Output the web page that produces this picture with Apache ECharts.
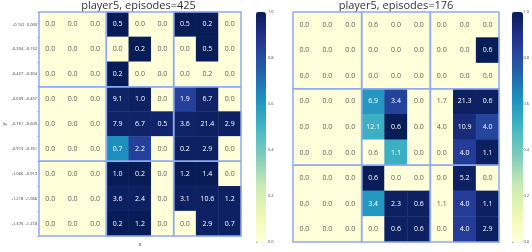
<!DOCTYPE html>
<html><head><meta charset="utf-8">
<script src="https://cdn.jsdelivr.net/npm/echarts@6/dist/echarts.min.js"></script>
<style>html,body{margin:0;padding:0;background:#fff}#c{width:532px;height:252px}</style>
</head><body><div id="c"></div>
<script>
const yCategories = ["-0.152~0.000","-0.304~-0.152","-0.457~-0.304","-0.609~-0.457","-0.761~-0.609","-0.913~-0.761","-1.066~-0.913","-1.218~-1.066","-1.370~-1.218"];
const xCategories = ["0","1","2","3","4","5","6","7","8"];
const titleLeft = "player5, episodes=425";
const titleRight = "player5, episodes=176";
const colorbarTicks = [0, 0.2, 0.4, 0.6, 0.8, 1.0];

const leftValues = [
 [0,0,0,0.5,0,0,0.5,0.2,0],
 [0,0,0,0,0.2,0,0,0.5,0],
 [0,0,0,0.2,0,0,0,0.2,0],
 [0,0,0,9.1,1.0,0,1.9,6.7,0],
 [0,0,0,7.9,6.7,0.5,3.6,21.4,2.9],
 [0,0,0,0.7,2.2,0,0.2,2.9,0],
 [0,0,0,1.0,0.2,0,1.2,1.4,0],
 [0,0,0,3.6,2.4,0,3.1,10.6,1.2],
 [0,0,0,0.2,1.2,0,0,2.9,0.7]
];
const leftColors = [
 [0,0,0,1,0,0,1,1,0],
 [0,0,0,0,1,0,0,1,0],
 [0,0,0,1,0,0,0,0,0],
 [0,0,0,0.97,0.98,0,0.84,0.97,0],
 [0,0,0,0.97,0.97,0.96,0.97,0.98,0.98],
 [0,0,0,0.63,0.84,0,0.98,0.98,0],
 [0,0,0,1,1,0,1,1,0],
 [0,0,0,0.98,0.98,0,0.98,0.98,0.98],
 [0,0,0,1,1,0,0,0.98,0.98]
];
const rightValues = [
 [0,0,0,0.6,0,0,0,0,0],
 [0,0,0,0,0,0,0,0,0.6],
 [0,0,0,0,0,0,0,0,0],
 [0,0,0,6.9,3.4,0,1.7,21.3,0.6],
 [0,0,0,12.1,0.6,0,4.0,10.9,4.0],
 [0,0,0,0.6,1.1,0,0,4.0,1.1],
 [0,0,0,0.6,0,0,0,5.2,0],
 [0,0,0,3.4,2.3,0.6,1.1,4.0,1.1],
 [0,0,0,0,0.6,0.6,0,4.0,2.9]
];
const rightColors = [
 [0,0,0,0,0,0,0,0,0],
 [0,0,0,0,0,0,0,0,1],
 [0,0,0,0,0,0,0,0,0],
 [0,0,0,0.6,0.83,0,0,0.98,0.98],
 [0,0,0,0.52,1,0,0,0.93,0.82],
 [0,0,0,0,0.52,0,0,0.85,0.98],
 [0,0,0,1,0,0,0,0.98,0],
 [0,0,0,0.6,0.98,0.98,0,0.85,0.98],
 [0,0,0,0,0.98,0.98,0,0.85,0.98]
];
const blockSize = 3;
const palette = ['#ffffd9','#edf8b1','#c7e9b4','#7fcdbb','#41b6c4','#1d91c0','#225ea8','#253494','#081d58'];
const FONT = '"Open Sans", "Noto Sans", sans-serif';

function buildData(values, colors) {
  const out = [];
  for (let r = 0; r < values.length; r++) {
    for (let c = 0; c < values[r].length; c++) {
      out.push({
        value: [c, r, colors[r][c], values[r][c]],
        label: { color: colors[r][c] > 0.3 ? '#ffffff' : '#5a5a5a' }
      });
    }
  }
  return out;
}
function buildBlocks() {
  const out = [];
  for (let r = 0; r < yCategories.length; r += blockSize)
    for (let c = 0; c < xCategories.length; c += blockSize)
      out.push([c, r, c + blockSize - 1, r + blockSize - 1]);
  return out;
}
function renderBlock(params, api) {
  const p0 = api.coord([api.value(0), api.value(1)]);
  const p1 = api.coord([api.value(2), api.value(3)]);
  const s = api.size([1, 1]);
  const x0 = Math.min(p0[0], p1[0]) - s[0] / 2;
  const x1 = Math.max(p0[0], p1[0]) + s[0] / 2;
  const y0 = Math.min(p0[1], p1[1]) - s[1] / 2;
  const y1 = Math.max(p0[1], p1[1]) + s[1] / 2;
  return { type: 'rect', shape: { x: x0, y: y0, width: x1 - x0, height: y1 - y0 },
    style: { fill: null, stroke: '#8eaaf2', lineWidth: 1.5 } };
}

const grids = [
  { left: 36, top: 12, width: 205, height: 230 },
  { left: 293, top: 12, width: 206, height: 230 },
  { left: 256, top: 12, width: 10, height: 230 },
  { left: 512, top: 12, width: 11, height: 230 }
];
function catX(i, showName) {
  return { type: 'category', gridIndex: i, data: xCategories,
    axisLabel: { show: false }, axisTick: { show: false }, axisLine: { show: false }, splitLine: { show: false },
    name: showName ? 'x' : '', nameLocation: 'middle', nameGap: 5,
    nameTextStyle: { fontSize: 6, color: '#333', fontFamily: FONT } };
}
function catY(i, showLabels) {
  return { type: 'category', gridIndex: i, data: yCategories, inverse: true,
    axisLabel: { show: showLabels, fontSize: 4, color: '#333', margin: 2, fontFamily: FONT },
    axisTick: { show: showLabels, length: 1.5, lineStyle: { color: '#333', width: 0.5 } },
    axisLine: { show: false }, splitLine: { show: false },
    name: showLabels ? 'y' : '', nameLocation: 'middle', nameGap: 32, nameRotate: 90,
    nameTextStyle: { fontSize: 6, color: '#333', fontFamily: FONT } };
}
function cbX(i) {
  return { type: 'value', gridIndex: i, show: false, min: 0, max: 1 };
}
function cbY(i) {
  return { type: 'value', gridIndex: i, position: 'right', min: 0, max: 1, interval: 0.2,
    axisLabel: { fontSize: 4, color: '#444', margin: 2, fontFamily: FONT,
      formatter: v => colorbarTicks.some(t => Math.abs(t - v) < 1e-9) ? v.toFixed(1) : '' },
    axisTick: { show: true, length: 1.5, lineStyle: { color: '#444', width: 0.5 } },
    axisLine: { show: false }, splitLine: { show: false } };
}

const heatLabel = { show: true, fontSize: 7, fontFamily: FONT,
  formatter: p => Number(p.value[3]).toFixed(1) };

const titleStyle = { fontSize: 11, fontWeight: 'normal', color: '#333', fontFamily: FONT, lineHeight: 11 };
const option = {
  animation: false,
  backgroundColor: '#ffffff',
  title: [
    { text: titleLeft, left: 138.5, textAlign: 'center', top: 0, padding: 0, textStyle: titleStyle },
    { text: titleRight, left: 396, textAlign: 'center', top: 0, padding: 0, textStyle: titleStyle }
  ],
  grid: grids,
  xAxis: [catX(0, true), catX(1, false), cbX(2), cbX(3)],
  yAxis: [catY(0, true), catY(1, false), cbY(2), cbY(3)],
  visualMap: [
    { type: 'continuous', min: 0, max: 1, dimension: 2, seriesIndex: [0, 1], calculable: false,
      inRange: { color: palette }, left: 256, top: 12, itemWidth: 10, itemHeight: 230,
      padding: 0, text: null, showLabel: false, orient: 'vertical' },
    { type: 'continuous', min: 0, max: 1, dimension: 2, seriesIndex: [], calculable: false,
      inRange: { color: palette }, left: 512, top: 12, itemWidth: 11, itemHeight: 230,
      padding: 0, text: null, showLabel: false, orient: 'vertical' }
  ],
  series: [
    { type: 'heatmap', xAxisIndex: 0, yAxisIndex: 0, data: buildData(leftValues, leftColors),
      label: heatLabel, itemStyle: { borderColor: 'rgba(255,255,255,0.06)', borderWidth: 0.5 },
      emphasis: { disabled: true } },
    { type: 'heatmap', xAxisIndex: 1, yAxisIndex: 1, data: buildData(rightValues, rightColors),
      label: heatLabel, itemStyle: { borderColor: 'rgba(255,255,255,0.06)', borderWidth: 0.5 },
      emphasis: { disabled: true } },
    { type: 'custom', xAxisIndex: 0, yAxisIndex: 0, data: buildBlocks(), renderItem: renderBlock, z: 10, silent: true },
    { type: 'custom', xAxisIndex: 1, yAxisIndex: 1, data: buildBlocks(), renderItem: renderBlock, z: 10, silent: true }
  ]
};
const chart = echarts.init(document.getElementById('c'), null, { renderer: 'canvas' });
chart.setOption(option);
</script></body></html>
